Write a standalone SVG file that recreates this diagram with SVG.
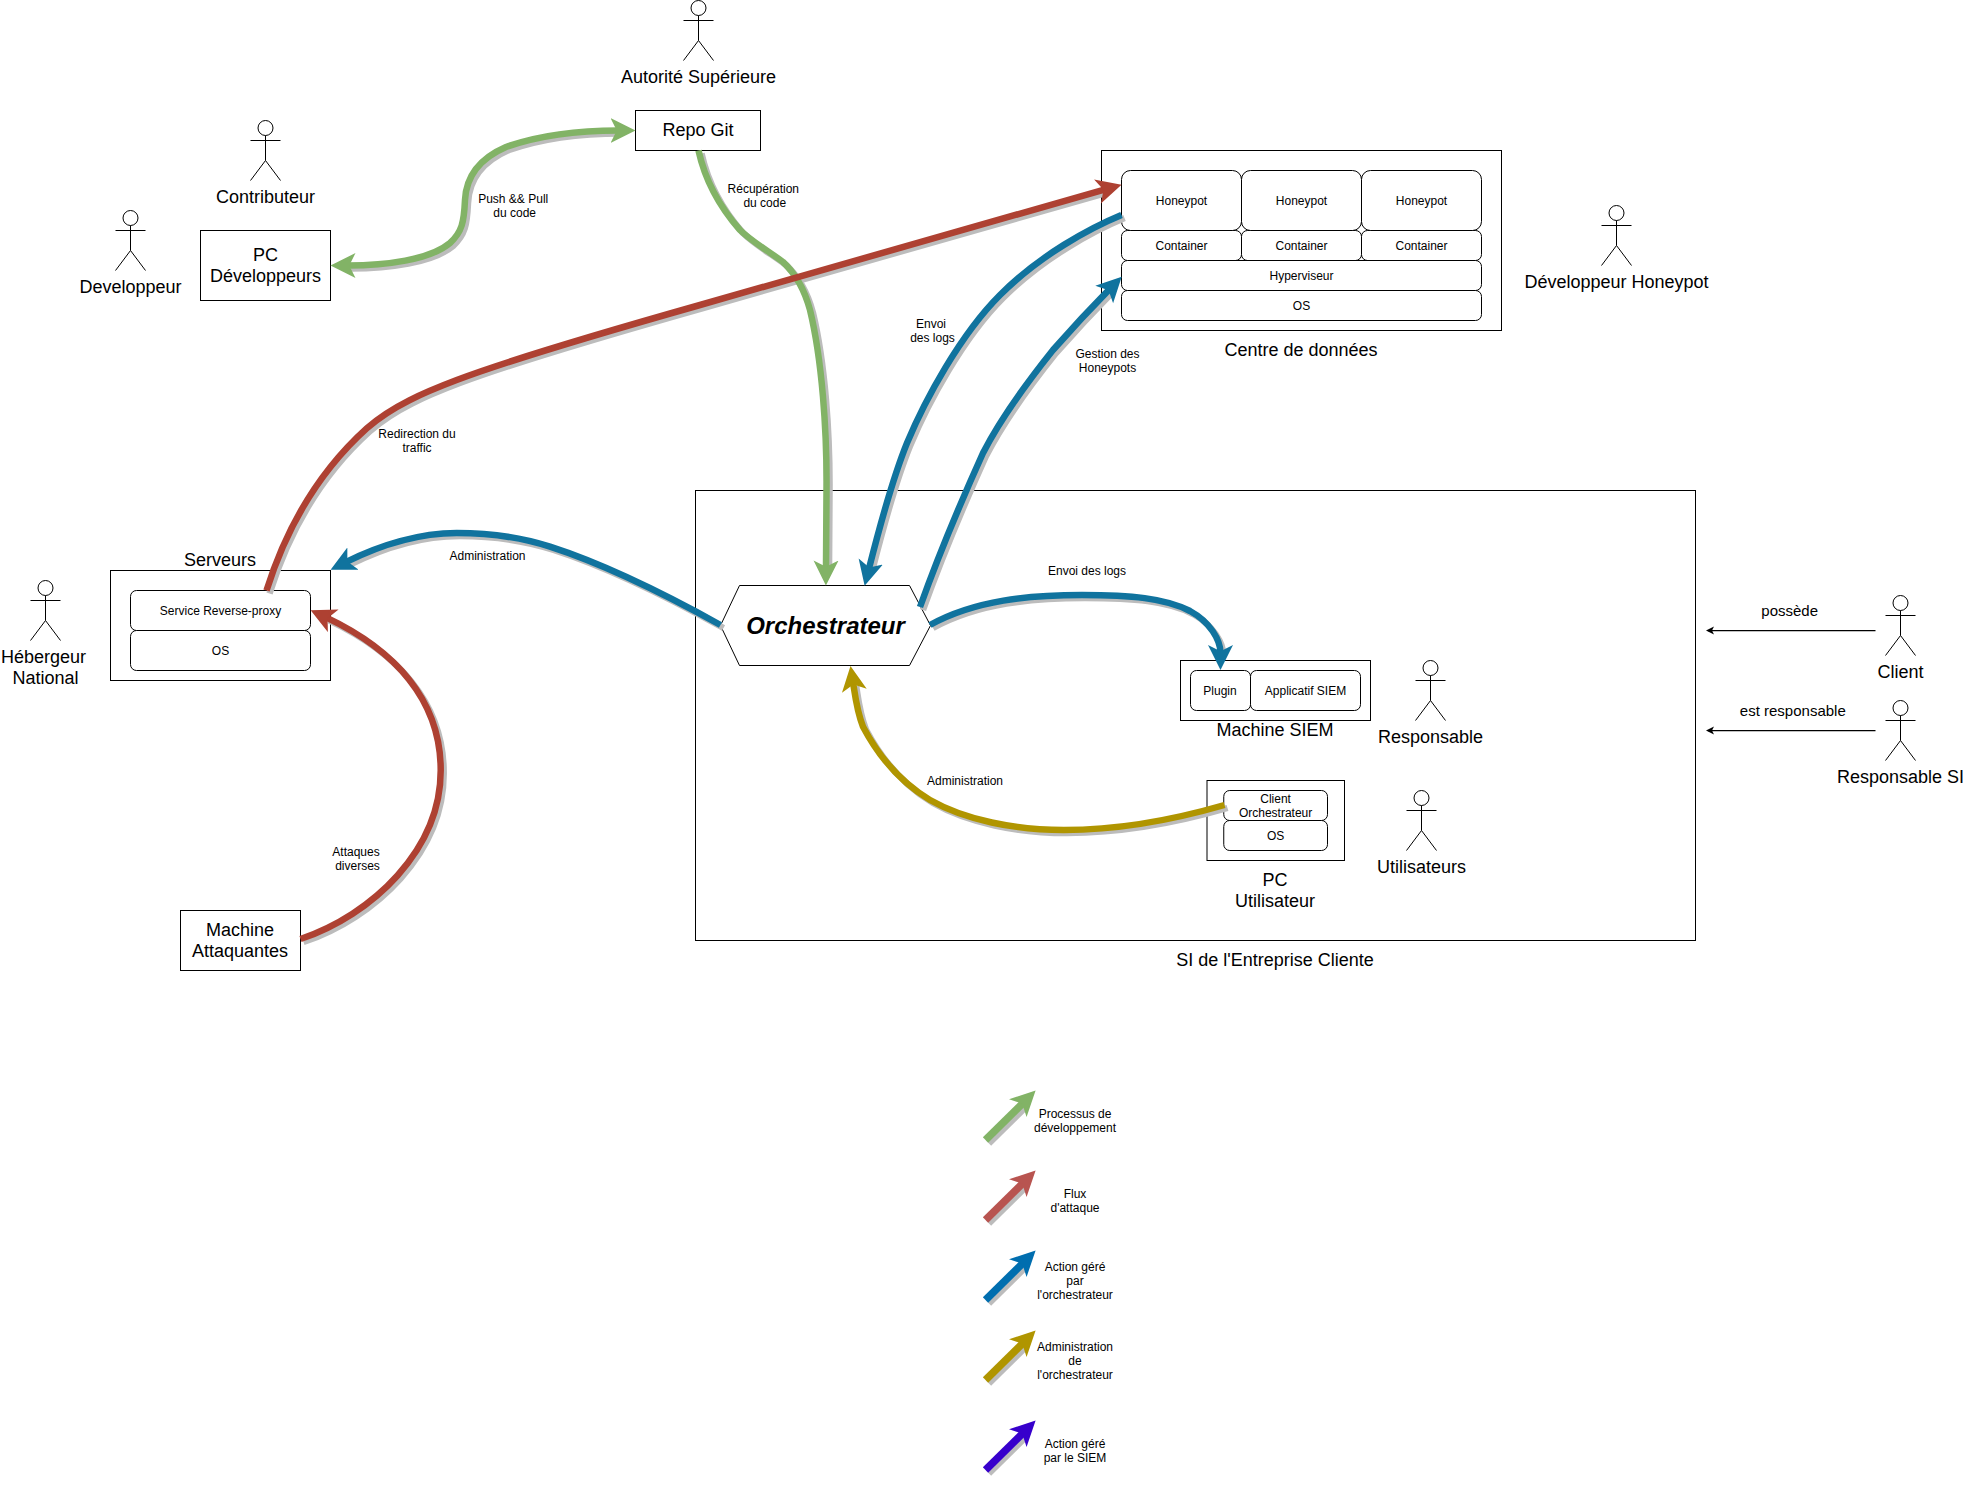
<svg xmlns="http://www.w3.org/2000/svg" xmlns:xlink="http://www.w3.org/1999/xlink" width="1964" height="1485" viewBox="0 0 1964 1485">
<style>
text{font-family:"Liberation Sans",Arial,sans-serif;text-anchor:middle;fill:#000}
.n{font-size:18px}.m{font-size:15px}.s{font-size:12px}
.o{font-size:24px;font-weight:bold;font-style:italic}
.box{fill:#fff;stroke:#000;stroke-width:1}
.actor{fill:#fff;stroke:#000;stroke-width:1}
.e{fill:none;stroke-width:6.5}
.sh{fill:none;stroke:#bcbcbc;stroke-width:6.5}
.thin{fill:none;stroke:#000;stroke-width:1.25}
.green{stroke:#82b366}.red{stroke:#ae4132}.blue{stroke:#10739e}.gold{stroke:#b09500}
.lred{stroke:#b85450}.lblue{stroke:#006eaf}.purple{stroke:#3700cc}
.l{stroke-width:7.5}
</style>
<defs>
<g id="actor" class="actor"><circle cx="0" cy="7.5" r="7.5"/><path d="M-15 20H15M0 15V40L-15 60M0 40L15 60"/></g>
<marker id="hg" markerUnits="userSpaceOnUse" markerWidth="26" markerHeight="26" viewBox="0 0 26 26" refX="8" refY="13" orient="auto-start-reverse"><path d="M25 13L0 .5L6.25 13L0 25.5Z" fill="#82b366"/></marker>
<marker id="hr" markerUnits="userSpaceOnUse" markerWidth="26" markerHeight="26" viewBox="0 0 26 26" refX="8" refY="13" orient="auto"><path d="M25 13L0 .5L6.25 13L0 25.5Z" fill="#ae4132"/></marker>
<marker id="hb" markerUnits="userSpaceOnUse" markerWidth="26" markerHeight="26" viewBox="0 0 26 26" refX="8" refY="13" orient="auto"><path d="M25 13L0 .5L6.25 13L0 25.5Z" fill="#10739e"/></marker>
<marker id="hy" markerUnits="userSpaceOnUse" markerWidth="26" markerHeight="26" viewBox="0 0 26 26" refX="8" refY="13" orient="auto"><path d="M25 13L0 .5L6.25 13L0 25.5Z" fill="#b09500"/></marker>
<marker id="hlr" markerUnits="userSpaceOnUse" markerWidth="26" markerHeight="26" viewBox="0 0 26 26" refX="8" refY="13" orient="auto"><path d="M25 13L0 .5L6.25 13L0 25.5Z" fill="#b85450"/></marker>
<marker id="hlb" markerUnits="userSpaceOnUse" markerWidth="26" markerHeight="26" viewBox="0 0 26 26" refX="8" refY="13" orient="auto"><path d="M25 13L0 .5L6.25 13L0 25.5Z" fill="#006eaf"/></marker>
<marker id="hp" markerUnits="userSpaceOnUse" markerWidth="26" markerHeight="26" viewBox="0 0 26 26" refX="8" refY="13" orient="auto"><path d="M25 13L0 .5L6.25 13L0 25.5Z" fill="#3700cc"/></marker>
<marker id="ht" markerUnits="userSpaceOnUse" markerWidth="10" markerHeight="10" viewBox="0 0 10 10" refX="7" refY="5" orient="auto"><path d="M9 5L1 1L3 5L1 9Z" fill="#000"/></marker>
</defs>

<g id="si-entreprise"><rect class="box" x="695.5" y="490.5" width="1000" height="450"/><text class="n" x="1275" y="966">SI de l'Entreprise Cliente</text></g>

<g id="autorite"><use href="#actor" x="698.5" y="0.5"/><text class="n" x="698.5" y="83">Autorité Supérieure</text></g>
<g id="repo-git"><rect class="box" x="635.5" y="110.5" width="125" height="40"/><text class="n" x="698" y="136">Repo Git</text></g>
<g id="contributeur"><use href="#actor" x="265.5" y="120.5"/><text class="n" x="265.5" y="203">Contributeur</text></g>
<g id="developpeur"><use href="#actor" x="130.5" y="210.5"/><text class="n" x="130.5" y="293">Developpeur</text></g>
<g id="pc-developpeurs"><rect class="box" x="200.5" y="230.5" width="130" height="70"/><text class="n" x="265.5" y="261">PC</text><text class="n" x="265.5" y="282">Développeurs</text></g>

<g id="centre-donnees">
<rect class="box" x="1101.5" y="150.5" width="400" height="180"/>
<rect class="box" x="1121.5" y="230.5" width="120" height="30" rx="6"/><text class="s" x="1181.5" y="250">Container</text>
<rect class="box" x="1241.5" y="230.5" width="120" height="30" rx="6"/><text class="s" x="1301.5" y="250">Container</text>
<rect class="box" x="1361.5" y="230.5" width="120" height="30" rx="6"/><text class="s" x="1421.5" y="250">Container</text>
<rect class="box" x="1121.5" y="170.5" width="120" height="60" rx="9"/><text class="s" x="1181.5" y="205">Honeypot</text>
<rect class="box" x="1241.5" y="170.5" width="120" height="60" rx="9"/><text class="s" x="1301.5" y="205">Honeypot</text>
<rect class="box" x="1361.5" y="170.5" width="120" height="60" rx="9"/><text class="s" x="1421.5" y="205">Honeypot</text>
<rect class="box" x="1121.5" y="260.5" width="360" height="30" rx="6"/><text class="s" x="1301.5" y="280">Hyperviseur</text>
<rect class="box" x="1121.5" y="290.5" width="360" height="30" rx="6"/><text class="s" x="1301.5" y="310">OS</text>
<text class="n" x="1301" y="356">Centre de données</text>
</g>
<g id="developpeur-honeypot"><use href="#actor" x="1616.5" y="205.5"/><text class="n" x="1616.5" y="288">Développeur Honeypot</text></g>

<g id="hebergeur"><use href="#actor" x="45.5" y="580.5"/><text class="n" x="43.5" y="663">Hébergeur</text><text class="n" x="45.5" y="684">National</text></g>
<g id="serveurs">
<text class="n" x="220" y="566">Serveurs</text>
<rect class="box" x="110.5" y="570.5" width="220" height="110"/>
<rect class="box" x="130.5" y="590.5" width="180" height="40" rx="6"/><text class="s" x="220.5" y="615">Service Reverse-proxy</text>
<rect class="box" x="130.5" y="630.5" width="180" height="40" rx="6"/><text class="s" x="220.5" y="655">OS</text>
</g>
<g id="machine-attaquantes"><rect class="box" x="180.5" y="910.5" width="120" height="60"/><text class="n" x="240" y="936">Machine</text><text class="n" x="240" y="957">Attaquantes</text></g>

<g id="orchestrateur"><polygon class="box" points="720.5,625.5 739.5,585.5 909.5,585.5 930.5,625.5 909.5,665.5 739.5,665.5"/><text class="o" x="825.5" y="634">Orchestrateur</text></g>

<g id="machine-siem">
<rect class="box" x="1180.5" y="660.5" width="190" height="60"/>
<rect class="box" x="1190.5" y="670.5" width="60" height="40" rx="6"/><text class="s" x="1220" y="695">Plugin</text>
<rect class="box" x="1250.5" y="670.5" width="110" height="40" rx="6"/><text class="s" x="1305.5" y="695">Applicatif SIEM</text>
<text class="n" x="1275" y="736">Machine SIEM</text>
</g>
<g id="responsable"><use href="#actor" x="1430.5" y="660.5"/><text class="n" x="1430.5" y="743">Responsable</text></g>

<g id="pc-utilisateur">
<rect class="box" x="1207" y="780.5" width="137.5" height="80"/>
<rect class="box" x="1223.75" y="790.5" width="103.75" height="30" rx="6"/><text class="s" x="1275.6" y="803">Client</text><text class="s" x="1275.6" y="817">Orchestrateur</text>
<rect class="box" x="1223.75" y="820.5" width="103.75" height="30" rx="6"/><text class="s" x="1275.6" y="840">OS</text>
<text class="n" x="1275" y="886">PC</text><text class="n" x="1275" y="907">Utilisateur</text>
</g>
<g id="utilisateurs"><use href="#actor" x="1421.5" y="790.5"/><text class="n" x="1421.5" y="873">Utilisateurs</text></g>

<g id="client"><use href="#actor" x="1900.5" y="595.5"/><text class="n" x="1900.5" y="678">Client</text></g>
<g id="responsable-si"><use href="#actor" x="1900.5" y="700.5"/><text class="n" x="1900.5" y="783">Responsable SI</text></g>

<g id="connector-shadows" transform="translate(3 3)">
<path class="sh" d="M347.5 265.5C385 265.5 430 260 450 243C462 232 464 222 465 200C466 180 476 160 506 147C540 135 580 130.5 618.5 130.5"/>
<path class="sh" d="M698.5 150.5C705 180 718 205 740 230C752 242 770 252 783 262C798 276 806 295 810 310C822 360 827 430 826.5 490L826 568.5"/>
<path class="sh" d="M266.5 590.5C284 535 315 475 366.7 428.3C392 406 425 392 456.7 380C520 356 640 322 700 305L1105.2 189.3"/>
<path class="sh" d="M300.5 939C372 915 441 850 440.7 770C440.7 700 395 650 326 617.4"/>
<path class="sh" d="M720.5 625C670 597 610 566 550 546.7C520 537 490 533 456.7 533C420 533 380 545 345.8 562.2"/>
<path class="sh" d="M1121.5 215C1090 228 1040 255 1000 295C960 335 925 400 907 443C892 480 880 525 868.8 569.3"/>
<path class="sh" d="M920 607C935 565 955 515 983 453C1000 420 1025 385 1053 350C1075 325 1092 307 1109.8 288.9"/>
<path class="sh" d="M930 625C975 600 1030 595 1082 595C1130 595 1165 598 1190 611C1210 622 1220.5 640 1220.5 653"/>
<path class="sh" d="M1224.5 805C1190 815 1130 830 1064 830C1015 830 965 820 930 800C900 782 878 755 863 726.7C857 712 855 695 853.1 682.8"/>
<path class="sh l" d="M985.5 1140L1023.5 1102.5"/>
<path class="sh l" d="M985.5 1220L1023.5 1182.5"/>
<path class="sh l" d="M985.5 1300L1023.5 1262.5"/>
<path class="sh l" d="M985.5 1380L1023.5 1342.5"/>
<path class="sh l" d="M985.5 1470L1023.5 1432.5"/>
</g>

<g id="connectors">
<path class="e green" marker-start="url(#hg)" marker-end="url(#hg)" d="M347.5 265.5C385 265.5 430 260 450 243C462 232 464 222 465 200C466 180 476 160 506 147C540 135 580 130.5 618.5 130.5"/>
<path class="e green" marker-end="url(#hg)" d="M698.5 150.5C705 180 718 205 740 230C752 242 770 252 783 262C798 276 806 295 810 310C822 360 827 430 826.5 490L826 568.5"/>
<path class="e red" marker-end="url(#hr)" d="M266.5 590.5C284 535 315 475 366.7 428.3C392 406 425 392 456.7 380C520 356 640 322 700 305L1105.2 189.3"/>
<path class="e red" marker-end="url(#hr)" d="M300.5 939C372 915 441 850 440.7 770C440.7 700 395 650 326 617.4"/>
<path class="e blue" marker-end="url(#hb)" d="M720.5 625C670 597 610 566 550 546.7C520 537 490 533 456.7 533C420 533 380 545 345.8 562.2"/>
<path class="e blue" marker-end="url(#hb)" d="M1121.5 215C1090 228 1040 255 1000 295C960 335 925 400 907 443C892 480 880 525 868.8 569.3"/>
<path class="e blue" marker-end="url(#hb)" d="M920 607C935 565 955 515 983 453C1000 420 1025 385 1053 350C1075 325 1092 307 1109.8 288.9"/>
<path class="e blue" marker-end="url(#hb)" d="M930 625C975 600 1030 595 1082 595C1130 595 1165 598 1190 611C1210 622 1220.5 640 1220.5 653"/>
<path class="e gold" marker-end="url(#hy)" d="M1224.5 805C1190 815 1130 830 1064 830C1015 830 965 820 930 800C900 782 878 755 863 726.7C857 712 855 695 853.1 682.8"/>
<path class="thin" marker-end="url(#ht)" d="M1875.5 630.5H1708"/>
<path class="thin" marker-end="url(#ht)" d="M1875.5 730.5H1708"/>
<path class="e l green" marker-end="url(#hg)" d="M985.5 1140L1023.5 1102.5"/>
<path class="e l lred" marker-end="url(#hlr)" d="M985.5 1220L1023.5 1182.5"/>
<path class="e l lblue" marker-end="url(#hlb)" d="M985.5 1300L1023.5 1262.5"/>
<path class="e l gold" marker-end="url(#hy)" d="M985.5 1380L1023.5 1342.5"/>
<path class="e l purple" marker-end="url(#hp)" d="M985.5 1470L1023.5 1432.5"/>
</g>

<g id="connector-labels">
<text class="s" x="513.2" y="203">Push &amp;&amp; Pull</text><text class="s" x="514.7" y="217">du code</text>
<text class="s" x="763.3" y="193">Récupération</text><text class="s" x="764.8" y="207">du code</text>
<text class="s" x="417" y="438">Redirection du</text><text class="s" x="417" y="452">traffic</text>
<text class="s" x="931" y="328">Envoi</text><text class="s" x="932.5" y="342">des logs</text>
<text class="s" x="1107.5" y="358">Gestion des</text><text class="s" x="1107.5" y="372">Honeypots</text>
<text class="s" x="487.5" y="560">Administration</text>
<text class="s" x="1087" y="575">Envoi des logs</text>
<text class="s" x="965" y="785">Administration</text>
<text class="s" x="356" y="856">Attaques</text><text class="s" x="357.5" y="870">diverses</text>
<text class="m" x="1789.7" y="616">possède</text>
<text class="m" x="1792.8" y="716">est responsable</text>
</g>

<g id="legend">
<text class="s" x="1075" y="1118">Processus de</text><text class="s" x="1075" y="1132">développement</text>
<text class="s" x="1075" y="1198">Flux</text><text class="s" x="1075" y="1212">d'attaque</text>
<text class="s" x="1075" y="1271">Action géré</text><text class="s" x="1075" y="1285">par</text><text class="s" x="1075" y="1299">l'orchestrateur</text>
<text class="s" x="1075" y="1351">Administration</text><text class="s" x="1075" y="1365">de</text><text class="s" x="1075" y="1379">l'orchestrateur</text>
<text class="s" x="1075" y="1448">Action géré</text><text class="s" x="1075" y="1462">par le SIEM</text>
</g>
</svg>
